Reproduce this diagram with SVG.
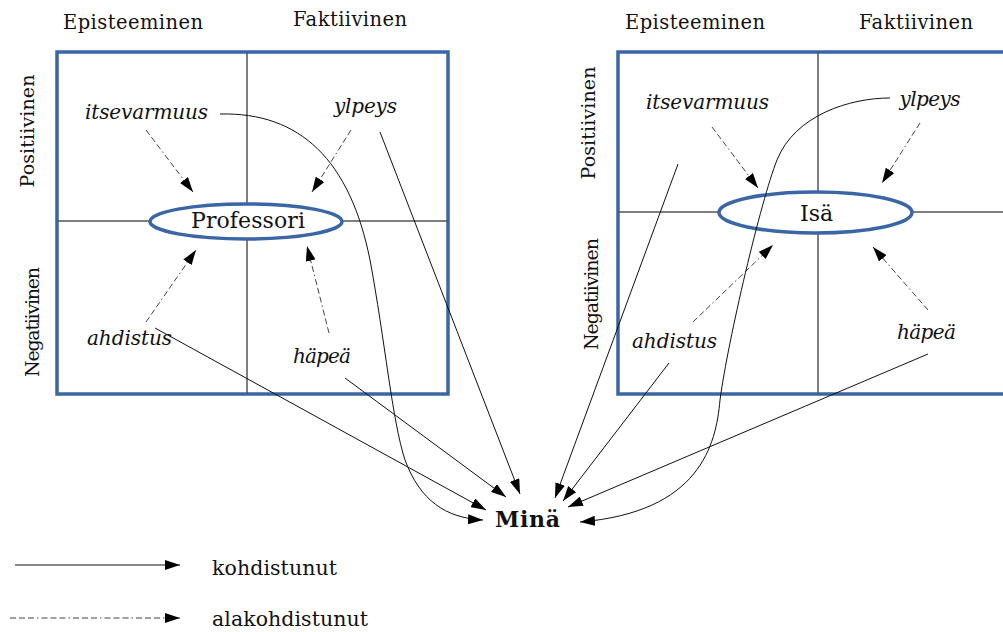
<svg xmlns="http://www.w3.org/2000/svg" width="1003" height="632" viewBox="0 0 1003 632">
<style>
.t{font-family:"DejaVu Serif","Liberation Serif",serif;fill:#111;}
.h{font-size:19.5px;}
.it{font-size:20px;font-style:italic;}
.ax{font-size:19px;}
.box{fill:none;stroke:#3a66a6;stroke-width:3.5;}
.div{stroke:#555;stroke-width:1.5;}
.ell{fill:#fff;stroke:#3a66a6;stroke-width:3.5;}
.sol{fill:none;stroke:#111;stroke-width:1;marker-end:url(#ah);}
.dash{fill:none;stroke:#444;stroke-width:1;stroke-dasharray:6,3,6,3,6,3,1.5,3;marker-end:url(#ah);}
</style>
<defs>
<marker id="ah" viewBox="0 0 15 10" refX="15" refY="5" markerWidth="15" markerHeight="10" markerUnits="userSpaceOnUse" orient="auto">
<path d="M0,0 L15,5 L0,10 z" fill="#000"/>
</marker>
</defs>
<rect width="1003" height="632" fill="#fff"/>

<g id="panel-professori">
<rect class="box" x="57" y="52" width="391" height="342"/>
<line class="div" x1="247" y1="52" x2="247" y2="394"/>
<line class="div" x1="57" y1="221" x2="448" y2="221"/>
<text class="t h" x="133" y="29" text-anchor="middle" textLength="140">Episteeminen</text>
<text class="t h" x="350" y="26" text-anchor="middle" textLength="114">Faktiivinen</text>
<text class="t ax" transform="translate(34,131) rotate(-90)" text-anchor="middle" textLength="113">Positiivinen</text>
<text class="t ax" transform="translate(39,322) rotate(-90)" text-anchor="middle" textLength="110">Negatiivinen</text>
</g>
<g id="node-professori">
<ellipse class="ell" cx="246" cy="221.5" rx="96" ry="17.5"/>
<text class="t" x="248" y="228" font-size="22" text-anchor="middle" textLength="114">Professori</text>
</g>
<g id="node-p-itsevarmuus"><text class="t it" x="146.5" y="119" text-anchor="middle" textLength="123">itsevarmuus</text></g>
<g id="node-p-ylpeys"><text class="t it" x="365.5" y="113" text-anchor="middle" textLength="63">ylpeys</text></g>
<g id="node-p-ahdistus"><text class="t it" x="129.5" y="345" text-anchor="middle" textLength="85">ahdistus</text></g>
<g id="node-p-hapea"><text class="t it" x="322" y="363" text-anchor="middle" textLength="58">häpeä</text></g>

<g id="panel-isa">
<rect class="box" x="618" y="52" width="400" height="342"/>
<line class="div" x1="818" y1="52" x2="818" y2="394"/>
<line class="div" x1="618" y1="212" x2="1003" y2="212"/>
<text class="t h" x="695" y="29" text-anchor="middle" textLength="140">Episteeminen</text>
<text class="t h" x="916" y="29" text-anchor="middle" textLength="114">Faktiivinen</text>
<text class="t ax" transform="translate(595,123) rotate(-90)" text-anchor="middle" textLength="113">Positiivinen</text>
<text class="t ax" transform="translate(598,294) rotate(-90)" text-anchor="middle" textLength="112">Negatiivinen</text>
</g>
<g id="node-isa">
<ellipse class="ell" cx="815.5" cy="212.5" rx="96.5" ry="20.5"/>
<text class="t" x="816.5" y="221" font-size="22" text-anchor="middle">Isä</text>
</g>
<g id="node-i-itsevarmuus"><text class="t it" x="707.5" y="109" text-anchor="middle" textLength="123">itsevarmuus</text></g>
<g id="node-i-ylpeys"><text class="t it" x="930" y="106" text-anchor="middle" textLength="61">ylpeys</text></g>
<g id="node-i-ahdistus"><text class="t it" x="674.5" y="348" text-anchor="middle" textLength="85">ahdistus</text></g>
<g id="node-i-hapea"><text class="t it" x="926.5" y="339" text-anchor="middle" textLength="59">häpeä</text></g>

<g id="node-mina"><text class="t" x="527.5" y="527" font-size="22" font-weight="bold" text-anchor="middle" textLength="65">Minä</text></g>

<g id="connectors">
<path class="dash" d="M146,130 L193,192"/>
<path class="dash" d="M351,130 L312,192"/>
<path class="dash" d="M146,322 L196,250"/>
<path class="dash" d="M329,333 L307,246"/>
<path class="dash" d="M712,127 L758,188"/>
<path class="dash" d="M920,123 L882,183"/>
<path class="dash" d="M693,322 L773,245"/>
<path class="dash" d="M928,310 L873,247"/>

<path class="sol" d="M220,114 C300,112 350,160 370,260 C385,340 392,420 405,460 C420,500 445,518 483,520"/>
<path class="sol" d="M155,328 L486,510"/>
<path class="sol" d="M345,378 L506,497"/>
<path class="sol" d="M380,132 L520,494"/>
<path class="sol" d="M678,164 L555,498"/>
<path class="sol" d="M669,363 L563,501"/>
<path class="sol" d="M928,354 L568,507"/>
<path class="sol" d="M890,98 C850,98 795,115 777,160 C761,200 728,340 720,400 C716,445 700,512 580,522"/>
</g>

<g id="legend">
<path class="sol" d="M15,565 L180,565"/>
<path class="dash" d="M10,618 L180,618"/>
<text class="t" x="212" y="575" font-size="20.5" textLength="125">kohdistunut</text>
<text class="t" x="212" y="626" font-size="20.5" textLength="156">alakohdistunut</text>
</g>
</svg>
